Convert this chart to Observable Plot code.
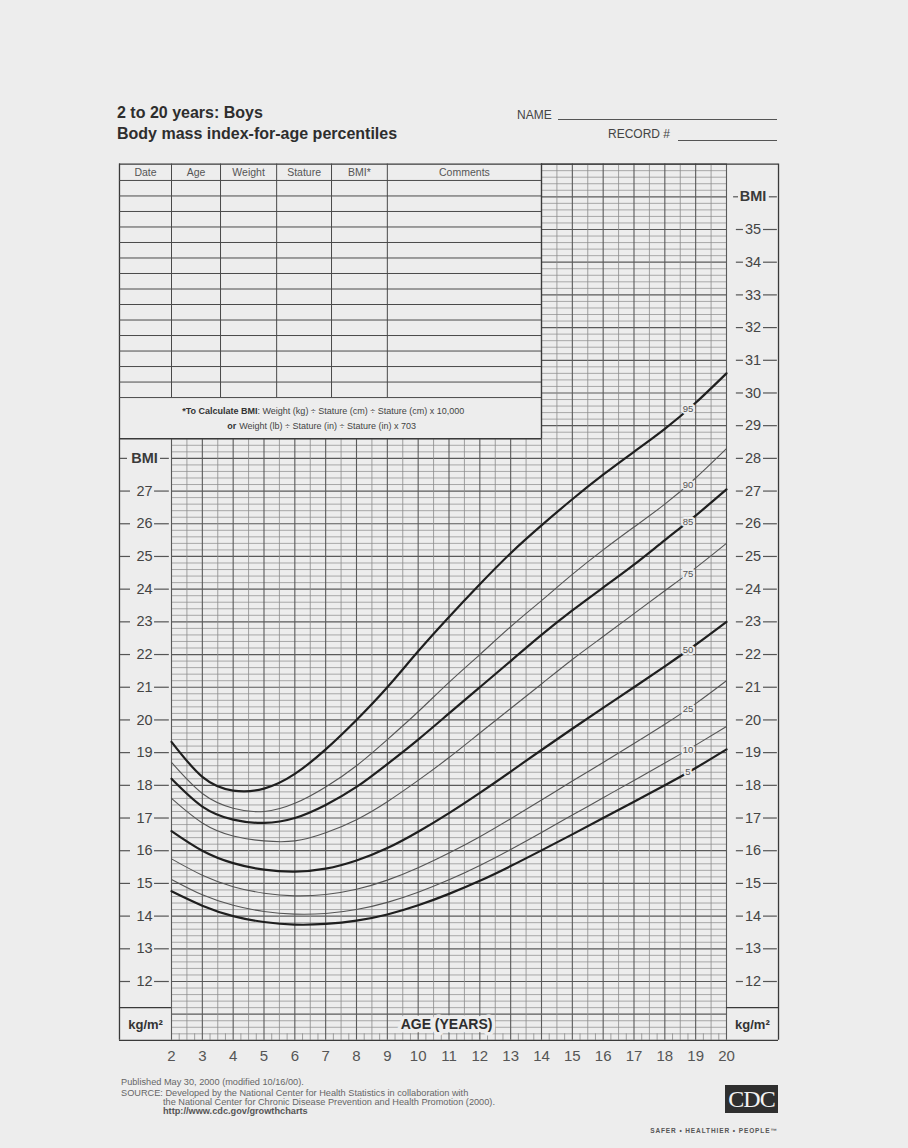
<!DOCTYPE html>
<html><head><meta charset="utf-8">
<script src="https://cdn.jsdelivr.net/npm/d3@7"></script>
<script src="https://cdn.jsdelivr.net/npm/@observablehq/plot@0.6"></script>
<style>
html,body{margin:0;padding:0;background:#ededed;}
body{width:908px;height:1148px;position:relative;overflow:hidden;font-family:"Liberation Sans",Arial,Helvetica,sans-serif;color:#333;}
#header{position:relative;height:150px;}
.abs{position:absolute;white-space:nowrap;}
.title{font-weight:bold;font-size:16px;color:#2e2e2e;left:117px;}
.form{font-size:12px;color:#444;}
.uline{position:absolute;height:0;border-top:1px solid #555;}
#chart{position:absolute;left:0;top:150px;}
.foot{font-size:9.2px;color:#666;left:121px;}
#logo{position:absolute;left:725px;top:1085px;width:53px;height:28px;background:#2f2f2f;color:#f2f2f2;font-family:"Liberation Serif","DejaVu Serif",serif;font-size:24px;line-height:28px;text-align:center;letter-spacing:-1px;}
#tag{position:absolute;left:643px;top:1127px;width:142px;text-align:center;font-size:6.5px;font-weight:bold;color:#555;letter-spacing:0.9px;}
</style></head>
<body>
<div id="header">
  <div class="abs title" style="top:104px;">2 to 20 years: Boys</div>
  <div class="abs title" style="top:125px;">Body mass index-for-age percentiles</div>
  <div class="abs form" style="left:517px;top:108px;">NAME</div>
  <div class="uline" style="left:558px;top:119px;width:219px;"></div>
  <div class="abs form" style="left:608px;top:127px;">RECORD #</div>
  <div class="uline" style="left:678px;top:140px;width:99px;"></div>
</div>
<div id="chart"></div>
<div class="abs foot" style="top:1077px;">Published May 30, 2000 (modified 10/16/00).</div>
<div class="abs foot" style="top:1088px;">SOURCE: Developed by the National Center for Health Statistics in collaboration with</div>
<div class="abs foot" style="top:1097px;left:163px;">the National Center for Chronic Disease Prevention and Health Promotion (2000).</div>
<div class="abs foot" style="top:1106px;left:163px;font-weight:bold;color:#555;">http://www.cdc.gov/growthcharts</div>
<div id="logo">CDC</div>
<div id="tag">SAFER • HEALTHIER • PEOPLE™</div>
<script>
// ---------- data ----------
const ageYears = [2,3,4,5,6,7,8,9,10,11,12,13,14,15,16,17,18,19,20];
const p5  = [14.76,14.32,14.00,13.82,13.74,13.76,13.86,14.05,14.33,14.68,15.08,15.53,16.01,16.50,17.00,17.50,18.00,18.53,19.10];
const p10 = [15.12,14.65,14.33,14.14,14.06,14.08,14.20,14.42,14.73,15.11,15.55,16.04,16.56,17.09,17.62,18.15,18.68,19.23,19.80];
const p25 = [15.75,15.25,14.90,14.70,14.62,14.66,14.82,15.10,15.48,15.93,16.43,16.98,17.55,18.13,18.70,19.28,19.87,20.50,21.20];
const p50 = [16.60,16.00,15.62,15.42,15.36,15.45,15.70,16.08,16.58,17.15,17.77,18.42,19.08,19.73,20.37,21.00,21.64,22.30,23.00];
const p75 = [17.60,16.85,16.45,16.30,16.30,16.55,16.95,17.50,18.15,18.85,19.60,20.35,21.10,21.85,22.55,23.25,23.95,24.65,25.40];
const p85 = [18.20,17.35,16.95,16.85,17.00,17.40,17.95,18.65,19.40,20.20,21.00,21.80,22.60,23.35,24.05,24.75,25.50,26.25,27.05];
const p90 = [18.70,17.75,17.30,17.20,17.45,17.95,18.60,19.40,20.25,21.15,22.00,22.85,23.65,24.45,25.20,25.90,26.60,27.40,28.30];
const p95 = [19.33,18.26,17.84,17.90,18.35,19.10,20.00,21.00,22.10,23.15,24.15,25.10,25.95,26.75,27.50,28.20,28.90,29.70,30.60];
const percentiles = [5,10,25,50,75,85,90,95];
const boldPercentiles = [5,50,85,95];
const xTickLabels = [2,3,4,5,6,7,8,9,10,11,12,13,14,15,16,17,18,19,20];
const leftBmiLabels = [12,13,14,15,16,17,18,19,20,21,22,23,24,25,26,27];
const rightBmiLabels = [12,13,14,15,16,17,18,19,20,21,22,23,24,25,26,27,28,29,30,31,32,33,34,35];
const tableHeaders = ["Date","Age","Weight","Stature","BMI*","Comments"];
const tableColumnEdges = [0.313,2,3.59,5.41,7.19,9.0,14];
const tableRowCount = 14;

// ---------- layout (in chart units) ----------
const xL = 0.313, xR = 21.687;         // outer frame
const yB = 10.2, yT = 37;              // grid bottom / top
const tabB = 28.6, tabRows = 29.86, tabHead = 36.5; // table
const panelSep = 11.2;
const labelAge = 18.75;
const bg = "#ededed";

const series = [p5,p10,p25,p50,p75,p85,p90,p95];
const curveData = percentiles.flatMap((p,i) => ageYears.map((a,j) => ({p, age:a, bmi:series[i][j], bold:boldPercentiles.includes(p)})));
const labelData = percentiles.map((p,i) => {
  const j = ageYears.findIndex(a => a > labelAge);
  const t = (labelAge - ageYears[j-1])/(ageYears[j]-ageYears[j-1]);
  return {p, age: labelAge, bmi: series[i][j-1] + t*(series[i][j]-series[i][j-1])};
});

const r1 = v => Math.round(v*10)/10;
const vLines = d3.range(2, 20.001, 0.5).map(r1);
const hLines = d3.range(yB, yT+0.001, 0.2).map(r1);
const quarterTicks = d3.range(2.25, 20, 0.5).map(v => Math.round(v*100)/100);
const rowLines = d3.range(1, tableRowCount+1).map(k => tabHead - k*(tabHead - tabRows)/tableRowCount);
const colCenters = tableColumnEdges.slice(0,-1).map((e,i) => (e + tableColumnEdges[i+1])/2);

const gridMinor = "#8a8a8a", gridMajor = "#5a5a5a", ink = "#3a3a3a";
const font = "Liberation Sans, Arial, Helvetica, sans-serif";

const chart = Plot.plot({
  width: 908, height: 920,
  marginLeft: 171, marginRight: 182, marginTop: 79, marginBottom: 89,
  x: {domain: [2, 20], axis: null},
  y: {domain: [12, 35], axis: null},
  style: {background: "transparent", fontFamily: font, overflow: "visible"},
  marks: [
    // horizontal grid
    Plot.ruleY(hLines.filter(v => v <= tabB && !Number.isInteger(v)), {x1: 2, x2: 20, stroke: gridMinor, strokeWidth: 0.7}),
    Plot.ruleY(hLines.filter(v => v > tabB && !Number.isInteger(v)), {x1: 14, x2: 20, stroke: gridMinor, strokeWidth: 0.7}),
    Plot.ruleY(hLines.filter(v => v <= tabB && Number.isInteger(v)), {x1: 2, x2: 20, stroke: gridMajor, strokeWidth: 1.2}),
    Plot.ruleY(hLines.filter(v => v > tabB && Number.isInteger(v)), {x1: 14, x2: 20, stroke: gridMajor, strokeWidth: 1.2}),
    // vertical grid
    Plot.ruleX(vLines.filter(v => v < 14 && !Number.isInteger(v)), {y1: yB, y2: tabB, stroke: gridMinor, strokeWidth: 0.8}),
    Plot.ruleX(vLines.filter(v => v >= 14 && !Number.isInteger(v)), {y1: yB, y2: yT, stroke: gridMinor, strokeWidth: 0.8}),
    Plot.ruleX(vLines.filter(v => v < 14 && Number.isInteger(v)), {y1: yB, y2: tabB, stroke: gridMajor, strokeWidth: 1.1}),
    Plot.ruleX(vLines.filter(v => v >= 14 && Number.isInteger(v)), {y1: yB, y2: yT, stroke: gridMajor, strokeWidth: 1.1}),
    Plot.ruleX(quarterTicks, {y1: yB, y2: yB + 0.2, stroke: gridMinor, strokeWidth: 0.8}),
    // frame
    Plot.ruleX([xL, xR], {y1: yB, y2: yT, stroke: ink, strokeWidth: 1.3}),
    Plot.ruleY([yB, yT], {x1: xL, x2: xR, stroke: ink, strokeWidth: 1.3}),
    Plot.ruleY([panelSep], {x1: xL, x2: 2, stroke: ink, strokeWidth: 1.1}),
    Plot.ruleY([panelSep], {x1: 20, x2: xR, stroke: ink, strokeWidth: 1.1}),
    // table
    Plot.ruleY([tabHead, ...rowLines], {x1: xL, x2: 14, stroke: "#4a4a4a", strokeWidth: 1}),
    Plot.ruleY([tabB], {x1: xL, x2: 14, stroke: ink, strokeWidth: 1.3}),
    Plot.ruleX(tableColumnEdges.slice(1,-1), {y1: tabRows, y2: yT, stroke: "#4a4a4a", strokeWidth: 1}),
    Plot.ruleX([14], {y1: tabB, y2: yT, stroke: ink, strokeWidth: 1.3}),
    Plot.text(tableHeaders, {x: (d,i) => colCenters[i], y: (tabHead + yT)/2, text: d => d, fontSize: 10.5, fill: "#555"}),
    Plot.text(["*To Calculate BMI"], {x: 4.79, y: 29.46, text: d => d, textAnchor: "end", fontSize: 9, fontWeight: "bold", fill: "#333"}),
    Plot.text([": Weight (kg) ÷ Stature (cm) ÷ Stature (cm) x 10,000"], {x: 4.79, y: 29.46, text: d => d, textAnchor: "start", fontSize: 9, fill: "#444"}),
    Plot.text(["or"], {x: 4.1, y: 29.0, text: d => d, textAnchor: "end", fontSize: 9, fontWeight: "bold", fill: "#333"}),
    Plot.text(["Weight (lb) ÷ Stature (in) ÷ Stature (in) x 703"], {x: 4.1, y: 29.0, dx: 3, text: d => d, textAnchor: "start", fontSize: 9, fill: "#444"}),
    // left axis
    Plot.text(leftBmiLabels, {x: 1.124, y: d => d, text: d => String(d), fontSize: 14.5, fill: "#444"}),
    Plot.ruleY(leftBmiLabels, {x1: 0.346, x2: 0.67, stroke: "#555", strokeWidth: 1.2}),
    Plot.ruleY(leftBmiLabels, {x1: 1.45, x2: 1.93, stroke: "#555", strokeWidth: 1.2}),
    Plot.text(["BMI"], {x: 1.124, y: 28, text: d => d, fontSize: 14.5, fontWeight: "bold", fill: "#3a3a3a"}),
    Plot.ruleY([28], {x1: 0.346, x2: 0.573, stroke: "#555", strokeWidth: 1.2}),
    Plot.ruleY([28], {x1: 1.643, x2: 1.93, stroke: "#555", strokeWidth: 1.2}),
    // right axis
    Plot.text(rightBmiLabels, {x: 20.86, y: d => d, text: d => String(d), fontSize: 14.5, fill: "#444"}),
    Plot.ruleY(rightBmiLabels, {x1: 20.32, x2: 20.55, stroke: "#555", strokeWidth: 1.2}),
    Plot.ruleY(rightBmiLabels, {x1: 21.2, x2: 21.65, stroke: "#555", strokeWidth: 1.2}),
    Plot.text(["BMI"], {x: 20.86, y: 36, text: d => d, fontSize: 14.5, fontWeight: "bold", fill: "#3a3a3a"}),
    Plot.ruleY([36], {x1: 20.23, x2: 20.39, stroke: "#555", strokeWidth: 1.2}),
    Plot.ruleY([36], {x1: 21.39, x2: 21.65, stroke: "#555", strokeWidth: 1.2}),
    // units and axis title
    Plot.text(["kg/m²"], {x: 1.16, y: 10.68, text: d => d, fontSize: 13, fontWeight: "bold", fill: "#333"}),
    Plot.text(["kg/m²"], {x: 20.84, y: 10.68, text: d => d, fontSize: 13, fontWeight: "bold", fill: "#333"}),
    Plot.text(["AGE (YEARS)"], {x: 10.92, y: 10.68, text: d => d, fontSize: 14, fontWeight: "bold", fill: "#2e2e2e", stroke: bg, strokeWidth: 7, paintOrder: "stroke"}),
    // bottom age labels
    Plot.text(xTickLabels, {x: d => d, y: 9.73, text: d => String(d), fontSize: 15, fill: "#555"}),
    // percentile curves
    Plot.line(curveData.filter(d => !d.bold), {x: "age", y: "bmi", z: "p", curve: "natural", stroke: "#555", strokeWidth: 1.1}),
    Plot.line(curveData.filter(d => d.bold), {x: "age", y: "bmi", z: "p", curve: "natural", stroke: "#1f1f1f", strokeWidth: 2.2}),
    Plot.text(labelData, {x: "age", y: "bmi", text: d => String(d.p), fontSize: 9.5, fill: "#555", stroke: bg, strokeWidth: 4, paintOrder: "stroke"})
  ]
});
document.getElementById("chart").appendChild(chart);
</script>
</body></html>
